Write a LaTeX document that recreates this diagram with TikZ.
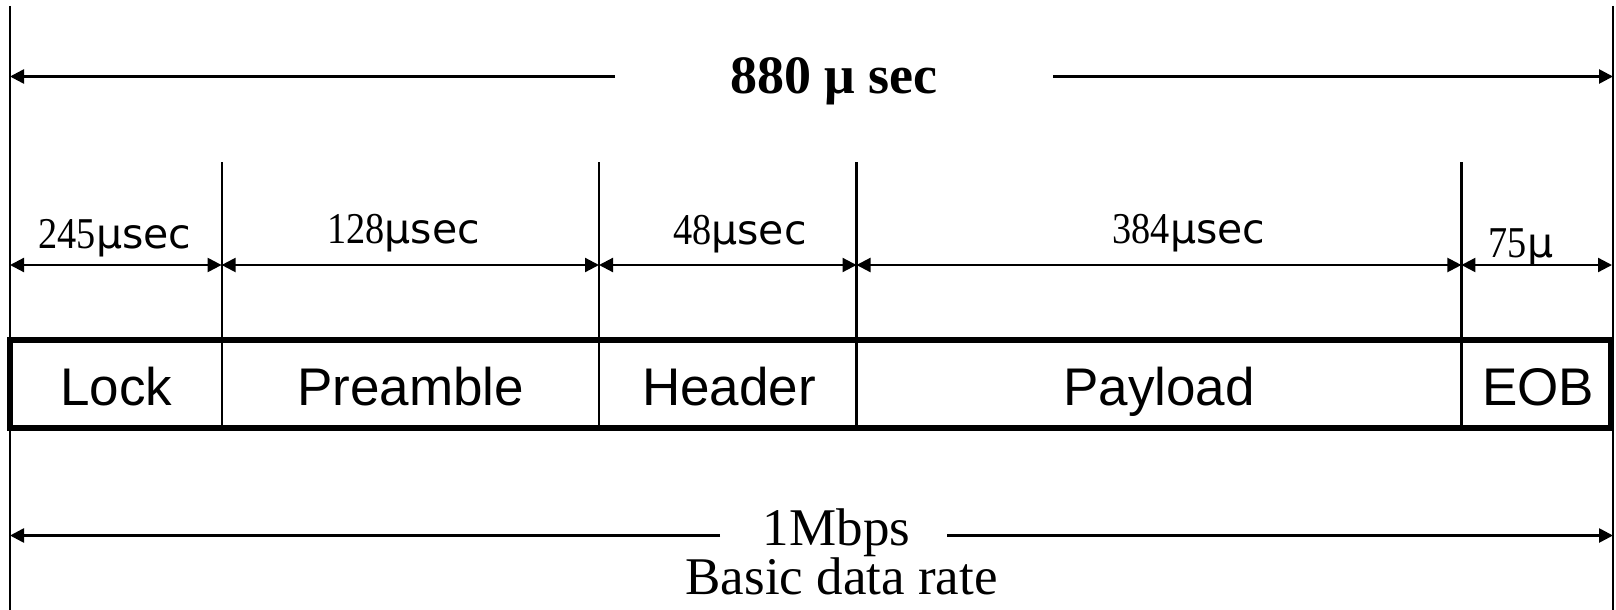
\documentclass[tikz,border=0pt]{standalone}
\usepackage{fontspec}
\usepackage{graphicx}
\setmainfont{Liberation Serif}
\newfontfamily\arialf{Liberation Sans}
\newfontfamily\musans{DejaVu Sans}
\usetikzlibrary{arrows.meta}
\newcommand{\dimlab}[1]{{\fontsize{44}{44}\selectfont\scalebox{0.87}[1]{#1}}{\musans\fontsize{41}{41}\selectfont μsec}}
\begin{document}
\begin{tikzpicture}[x=1pt,y=-1pt,
  bigarrow/.style={line width=2.6pt,-{Triangle[length=14pt,width=14pt]}},
  dimarrow/.style={line width=2.2pt,{Triangle[length=14pt,width=14pt]}-{Triangle[length=14pt,width=14pt]}},
  outline/.style={line width=2.2pt},
  divider/.style={line width=2.2pt},
  framebox/.style={line width=5.5pt},
  fieldlab/.style={anchor=base,inner sep=0pt,font=\arialf\fontsize{53}{53}\selectfont},
  dimtext/.style={anchor=base,inner sep=0pt},
  bigtext/.style={anchor=base,inner sep=0pt,font=\fontsize{53}{53}\selectfont}]
\useasboundingbox (0,0) rectangle (1616,610);
% outer limits
\coordinate (LT) at (10,6);
\coordinate (LB) at (10,610);
\coordinate (RT) at (1613,6);
\coordinate (RB) at (1613,610);
\draw[outline] (LT) -- (LB);
\draw[outline] (RT) -- (RB);
% title arrow
\node[anchor=base,inner sep=0pt,font=\bfseries\fontsize{54}{54}\selectfont] (title) at (834,93) {880 μ sec};
\coordinate (TL) at (10,76.5);
\coordinate (TR) at (1613,76.5);
\coordinate (TgL) at (615,76.5);
\coordinate (TgR) at (1053,76.5);
\draw[bigarrow] (TgL) -- (TL);
\draw[bigarrow] (TgR) -- (TR);
% dividers
\coordinate (d1t) at (221.6,162); \coordinate (d1b) at (221.6,428);
\coordinate (d2t) at (599,162);   \coordinate (d2b) at (599,428);
\coordinate (d3t) at (856.5,162); \coordinate (d3b) at (856.5,428);
\coordinate (d4t) at (1461.4,162);\coordinate (d4b) at (1461.4,428);
\foreach \i in {1,2,3,4} \draw[divider] (d\i t) -- (d\i b);
% frame
\coordinate (BoxNW) at (10,340);
\coordinate (BoxSE) at (1611,428);
\draw[framebox] (BoxNW) rectangle (BoxSE);
% dimension arrows
\coordinate (a0) at (10,265);
\coordinate (a1) at (221.6,265);
\coordinate (a2) at (599,265);
\coordinate (a3) at (856.5,265);
\coordinate (a4) at (1461.4,265);
\coordinate (a5) at (1612,265);
\draw[dimarrow] (a0) -- (a1);
\draw[dimarrow] (a1) -- (a2);
\draw[dimarrow] (a2) -- (a3);
\draw[dimarrow] (a3) -- (a4);
\draw[dimarrow] (a4) -- (a5);
% dimension labels
\node[dimtext] (l245) at (115,248) {\dimlab{245}};
\node[dimtext] (l128) at (403.5,243) {\dimlab{128}};
\node[dimtext] (l48) at (740,244) {\dimlab{48}};
\node[dimtext] (l384) at (1189,243) {\dimlab{384}};
\node[dimtext] (l75) at (1521,257) {{\fontsize{44}{44}\selectfont\scalebox{0.87}[1]{75}}{\musans\fontsize{41}{41}\selectfont μ}};
% field labels
\node[fieldlab] (lock) at (116.5,405) {Lock};
\node[fieldlab] (pre) at (410.6,405) {Preamble};
\node[fieldlab] (hdr) at (729,405) {Header};
\node[fieldlab] (pay) at (1159,405) {Payload};
\node[fieldlab] (eob) at (1538,405) {EOB};
% bottom arrow
\node[bigtext,text depth=7pt] (rate) at (836.5,545.5) {1Mbps};
\node[bigtext] (ratesub) at (841.5,594.5) {Basic data rate};
\coordinate (BL) at (10,535.5);
\coordinate (BR) at (1613,535.5);
\coordinate (BgL) at (720,535.5);
\coordinate (BgR) at (947,535.5);
\draw[bigarrow] (BgL) -- (BL);
\draw[bigarrow] (BgR) -- (BR);
\end{tikzpicture}
\end{document}
